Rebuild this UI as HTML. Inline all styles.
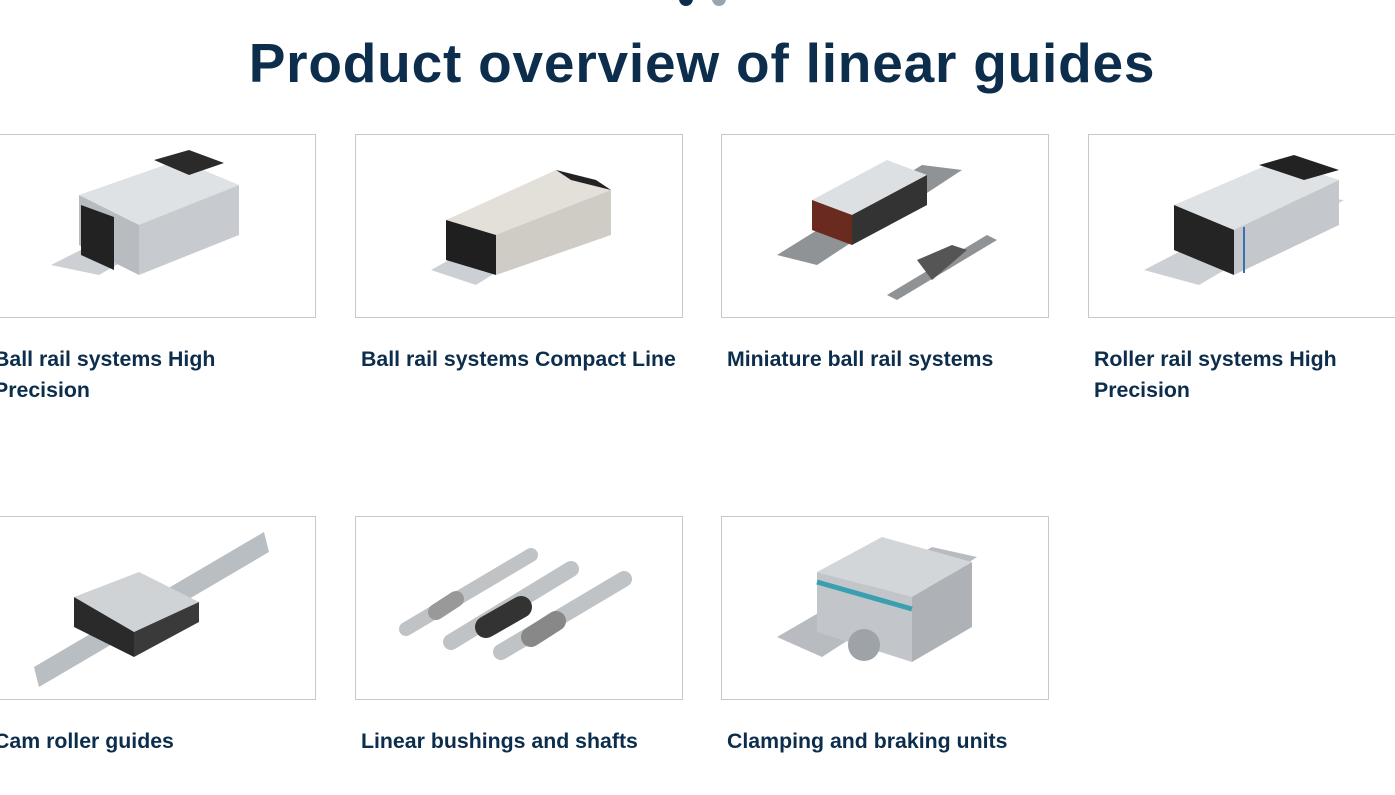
<!DOCTYPE html>
<html><head><meta charset="utf-8"><style>
body{margin:0;width:1395px;height:795px;overflow:hidden;background:#fff;font-family:"Liberation Sans",sans-serif;position:relative}
.dot{position:absolute;top:-8px;width:14px;height:14px;border-radius:50%}
h1{position:absolute;top:31px;left:0;width:1404px;text-align:center;margin:0;font-size:55px;font-weight:bold;color:#0c2d4b;letter-spacing:0.8px}
.card{position:absolute;width:326px;height:182px;border:1px solid #c8c8c8;background:#fff}
.card svg{position:absolute;left:0;top:0}
.lbl{position:absolute;width:400px;font-size:21.3px;font-weight:bold;color:#0c2d4b;line-height:31px;white-space:nowrap}
</style></head><body>
<div class="dot" style="left:679px;background:#0c2d4b"></div>
<div class="dot" style="left:712px;background:#9aa4ad"></div>
<h1>Product overview of linear guides</h1>

<div class="card" style="left:-12px;top:134px"><svg width="326" height="182"><polygon points="62,130 200,60 250,60 110,140" fill="#ccd0d4"/><polygon points="90,60 190,25 250,50 150,90" fill="#dfe2e5"/><polygon points="90,60 150,90 150,140 90,110" fill="#b8bcc0"/><polygon points="150,90 250,50 250,100 150,140" fill="#c7cbcf"/><polygon points="92,70 125,82 125,135 92,120" fill="#222"/><polygon points="165,25 200,40 235,28 200,15" fill="#2a2a2a"/></svg></div>
<div class="card" style="left:355px;top:134px"><svg width="326" height="182"><polygon points="75,135 210,60 255,65 120,150" fill="#ccd0d4"/><polygon points="90,85 200,35 255,55 140,100" fill="#e3e0da"/><polygon points="140,100 255,55 255,100 140,140" fill="#cfccc6"/><polygon points="90,85 140,100 140,140 90,125" fill="#1f1f1f"/><polygon points="200,35 240,45 255,55 215,45" fill="#222"/></svg></div>
<div class="card" style="left:721px;top:134px"><svg width="326" height="182"><polygon points="55,120 200,30 240,35 95,130" fill="#8f9396"/><polygon points="90,65 165,25 205,40 130,80" fill="#dde0e2"/><polygon points="90,65 130,80 130,110 90,95" fill="#6b2a1f"/><polygon points="130,80 205,40 205,70 130,110" fill="#333"/><polygon points="165,160 265,100 275,105 175,165" fill="#8f9396"/><polygon points="195,125 230,110 245,115 210,145" fill="#555"/></svg></div>
<div class="card" style="left:1088px;top:134px"><svg width="326" height="182"><polygon points="55,135 200,60 255,65 110,150" fill="#ccd0d4"/><polygon points="85,70 190,25 250,45 145,95" fill="#dfe2e5"/><polygon points="85,70 145,95 145,140 85,115" fill="#242424"/><polygon points="145,95 250,45 250,90 145,140" fill="#c4c8cc"/><polygon points="170,30 215,45 250,35 205,20" fill="#222"/><line x1="155" y1="92" x2="155" y2="138" stroke="#3a6fb0" stroke-width="2"/></svg></div>

<div class="lbl" style="left:-6px;top:344px">Ball rail systems High<br>Precision</div>
<div class="lbl" style="left:361px;top:344px">Ball rail systems Compact Line</div>
<div class="lbl" style="left:727px;top:344px">Miniature ball rail systems</div>
<div class="lbl" style="left:1094px;top:344px">Roller rail systems High<br>Precision</div>

<div class="card" style="left:-12px;top:516px"><svg width="326" height="182"><polygon points="45,150 275,15 280,35 50,170" fill="#b9bec2"/><polygon points="85,80 150,55 210,85 145,115" fill="#cfd3d6"/><polygon points="85,80 145,115 145,140 85,110" fill="#2a2a2a"/><polygon points="145,115 210,85 210,105 145,140" fill="#3a3a3a"/></svg></div>
<div class="card" style="left:355px;top:516px"><svg width="326" height="182" stroke-linecap="round"><line x1="50" y1="112" x2="175" y2="38" stroke="#bfc3c6" stroke-width="14"/><line x1="95" y1="125" x2="215" y2="52" stroke="#bfc3c6" stroke-width="16"/><line x1="145" y1="135" x2="268" y2="62" stroke="#bfc3c6" stroke-width="16"/><line x1="130" y1="110" x2="165" y2="90" stroke="#333" stroke-width="22"/><line x1="175" y1="120" x2="200" y2="104" stroke="#888" stroke-width="20"/><line x1="80" y1="95" x2="100" y2="82" stroke="#999" stroke-width="16"/></svg></div>
<div class="card" style="left:721px;top:516px"><svg width="326" height="182"><polygon points="55,120 210,30 255,40 100,140" fill="#b8bcc0"/><polygon points="95,55 160,20 250,45 190,80" fill="#d3d6d9"/><polygon points="95,55 190,80 190,145 95,115" fill="#c2c6ca"/><polygon points="190,80 250,45 250,110 190,145" fill="#aeb2b6"/><line x1="95" y1="65" x2="190" y2="92" stroke="#3aa0b0" stroke-width="5"/><circle cx="142" cy="128" r="16" fill="#9ea3a7"/></svg></div>

<div class="lbl" style="left:-6px;top:726px">Cam roller guides</div>
<div class="lbl" style="left:361px;top:726px">Linear bushings and shafts</div>
<div class="lbl" style="left:727px;top:726px">Clamping and braking units</div>
</body></html>
